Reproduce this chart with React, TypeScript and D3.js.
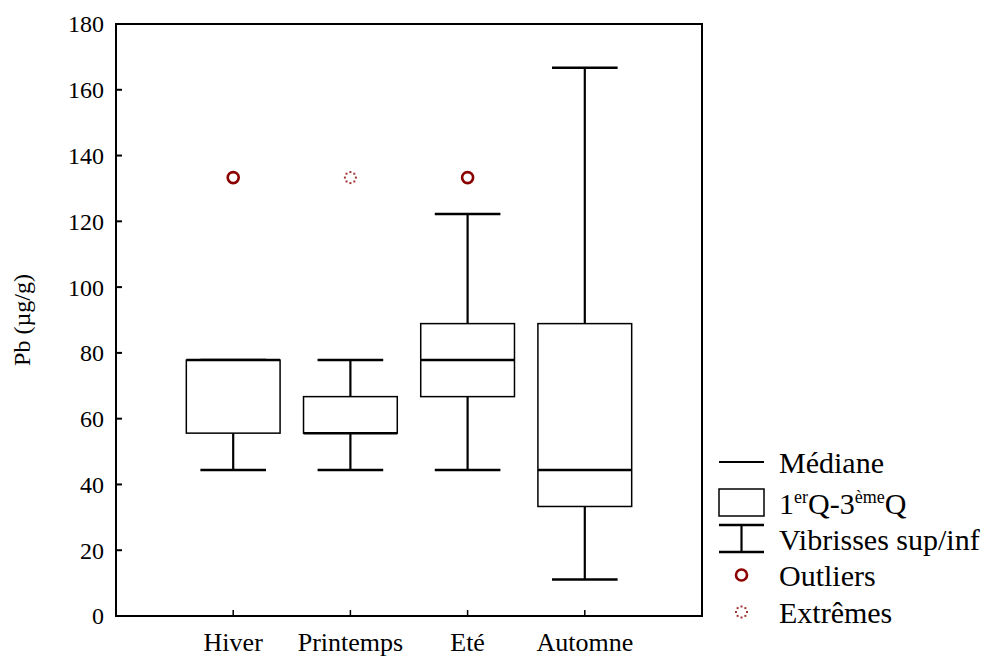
import * as d3 from 'd3'

const categories = ['Hiver', 'Printemps', 'Eté', 'Automne']
const whiskerLow = [44.4, 44.4, 44.4, 11.1]
const q1 = [55.6, 55.6, 66.7, 33.3]
const median = [77.8, 55.6, 77.8, 44.4]
const q3 = [77.8, 66.7, 88.9, 88.9]
const whiskerHigh = [77.8, 77.8, 122.2, 166.7]
const outliers = [{ cat: 'Hiver', value: 133.3 }, { cat: 'Eté', value: 133.3 }]
const extremes = [{ cat: 'Printemps', value: 133.3 }]
const yTicks = [0, 20, 40, 60, 80, 100, 120, 140, 160, 180]

const W = 985
const H = 659
const PLOT = { left: 116, right: 702, top: 24, bottom: 616 }
const FONT = '"Liberation Serif", "Times New Roman", serif'
const RED = '#8b0000'

// little dotted ring used for the "extrêmes" marker
function ExtremeMark({ cx, cy }: { cx: number; cy: number }) {
  const angles = d3.range(8).map(i => (i * Math.PI) / 4)
  return (
    <g>
      {angles.map((a, i) => (
        <rect key={i} x={cx + 5.5 * Math.cos(a) - 1} y={cy + 5.5 * Math.sin(a) - 1}
          width={2} height={2} fill={RED} opacity={0.8} />
      ))}
    </g>
  )
}

export default function App() {
  const x = d3.scalePoint<string>().domain(categories).range([PLOT.left, PLOT.right]).padding(1)
  const y = d3.scaleLinear().domain([0, 180]).range([PLOT.bottom, PLOT.top])
  const step = x.step()
  const boxW = step * 0.8
  const capW = step * 0.56

  // legend layout
  const lx = 719
  const lw = 45
  const tx = 779

  return (
    <svg width={W} height={H} style={{ position: 'absolute', left: 0, top: 0, background: '#fff' }}
      fontFamily={FONT}>
      {/* boxes */}
      {categories.map((c, i) => {
        const cx = x(c)!
        return (
          <g key={c}>
            <line x1={cx} x2={cx} y1={y(q3[i])} y2={y(whiskerHigh[i])} stroke="#000" strokeWidth={2.2} />
            <line x1={cx} x2={cx} y1={y(q1[i])} y2={y(whiskerLow[i])} stroke="#000" strokeWidth={2.2} />
            <line x1={cx - capW / 2} x2={cx + capW / 2} y1={y(whiskerHigh[i])} y2={y(whiskerHigh[i])}
              stroke="#000" strokeWidth={2.5} />
            <line x1={cx - capW / 2} x2={cx + capW / 2} y1={y(whiskerLow[i])} y2={y(whiskerLow[i])}
              stroke="#000" strokeWidth={2.5} />
            <rect x={cx - boxW / 2} y={y(q3[i])} width={boxW} height={y(q1[i]) - y(q3[i])}
              fill="#fff" stroke="#000" strokeWidth={1.5} />
            <line x1={cx - boxW / 2} x2={cx + boxW / 2} y1={y(median[i])} y2={y(median[i])}
              stroke="#000" strokeWidth={2.5} />
          </g>
        )
      })}

      {outliers.map((o, i) => (
        <circle key={i} cx={x(o.cat)!} cy={y(o.value)} r={5.5} fill="none" stroke={RED} strokeWidth={2.6} />
      ))}
      {extremes.map((o, i) => (
        <ExtremeMark key={i} cx={x(o.cat)!} cy={y(o.value)} />
      ))}

      {/* frame */}
      <rect x={PLOT.left} y={PLOT.top} width={PLOT.right - PLOT.left} height={PLOT.bottom - PLOT.top}
        fill="none" stroke="#000" strokeWidth={2} />

      {/* y axis */}
      {yTicks.map(t => (
        <g key={t}>
          <line x1={PLOT.left} x2={PLOT.left + 6} y1={y(t)} y2={y(t)} stroke="#000" strokeWidth={2} />
          <text x={PLOT.left - 12} y={y(t)} dy="0.35em" textAnchor="end" fontSize={24}>{t}</text>
        </g>
      ))}
      <text transform={`translate(30,${(PLOT.top + PLOT.bottom) / 2}) rotate(-90)`} textAnchor="middle"
        fontSize={24}>Pb (µg/g)</text>

      {/* x axis */}
      {categories.map(c => (
        <g key={c}>
          <line x1={x(c)!} x2={x(c)!} y1={PLOT.bottom} y2={PLOT.bottom - 6} stroke="#000" strokeWidth={1.5} />
          <text x={x(c)!} y={651} textAnchor="middle" fontSize={26}>{c}</text>
        </g>
      ))}

      {/* legend */}
      <g fontSize={30}>
        <line x1={lx} x2={lx + lw} y1={462} y2={462} stroke="#000" strokeWidth={2} />
        <text x={tx} y={462} dy="0.35em">Médiane</text>

        <rect x={lx} y={489} width={lw} height={27} fill="#fff" stroke="#000" strokeWidth={1.5} />
        <text x={tx} y={503} dy="0.35em">
          1<tspan fontSize={18} dy={-11}>er</tspan><tspan dy={11}>Q-3</tspan>
          <tspan fontSize={18} dy={-11}>ème</tspan><tspan dy={11}>Q</tspan>
        </text>

        <line x1={lx} x2={lx + lw} y1={525} y2={525} stroke="#000" strokeWidth={2.5} />
        <line x1={lx + lw / 2} x2={lx + lw / 2} y1={525} y2={552} stroke="#000" strokeWidth={2.2} />
        <line x1={lx} x2={lx + lw} y1={552} y2={552} stroke="#000" strokeWidth={2.5} />
        <text x={tx} y={539} dy="0.35em">Vibrisses sup/inf</text>

        <circle cx={lx + lw / 2} cy={575} r={5.5} fill="none" stroke={RED} strokeWidth={2.6} />
        <text x={tx} y={575} dy="0.35em">Outliers</text>

        <ExtremeMark cx={lx + lw / 2} cy={612} />
        <text x={tx} y={612} dy="0.35em">Extrêmes</text>
      </g>
    </svg>
  )
}
